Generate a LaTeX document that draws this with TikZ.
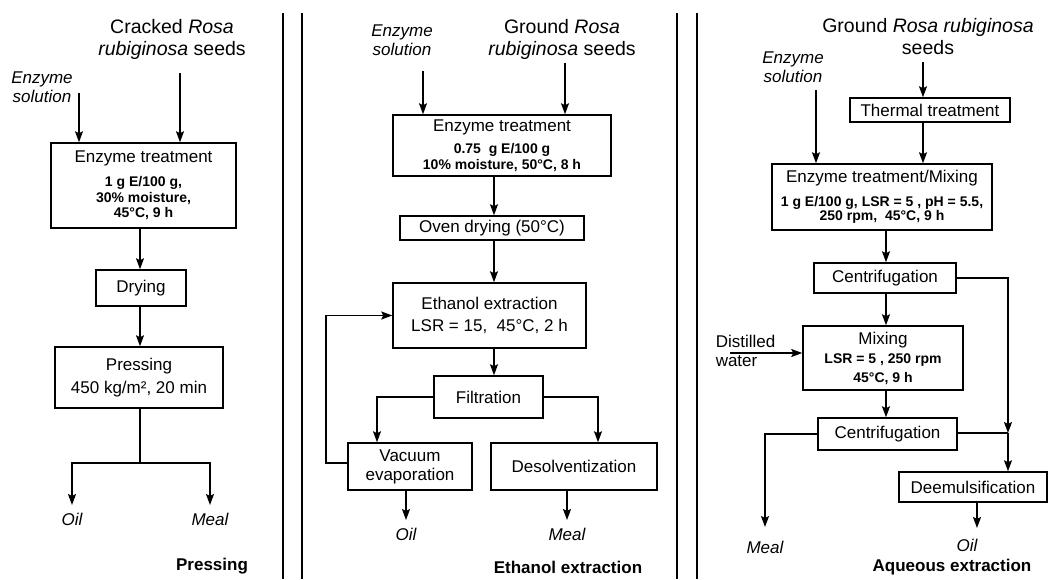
\documentclass[tikz,border=0pt]{standalone}
\usepackage{fontspec}
\setmainfont{Liberation Sans}
\usetikzlibrary{arrows.meta,calc}
\newcommand\ftitle{\fontsize{19.5}{22}\selectfont}
\newcommand\fmain{\fontsize{17}{20}\selectfont}
\newcommand\fhead{\fontsize{17}{20}\selectfont\mdseries}
\newcommand\fparam{\fontsize{14}{15.5}\selectfont\bfseries}
\newcommand\fital{\fontsize{17}{19.5}\selectfont\itshape}
\newcommand\ftag{\fontsize{17}{19}\selectfont\bfseries}
\begin{document}
\begin{tikzpicture}[x=1pt,y=-1pt,line width=1.5pt,
  >={Stealth[length=11pt,width=8pt,inset=2pt]},
  box/.style={draw,line width=1.5pt,align=center,inner sep=0pt,font=\fmain},
  pbox/.style={box,font=\fparam},
  ttl/.style={align=center,font=\ftitle,inner sep=0pt},
  ital/.style={align=center,font=\fital,inner sep=0pt},
  prod/.style={font=\fital,inner xsep=0pt,inner ysep=7pt},
  tag/.style={font=\ftag,inner sep=0pt},
  div/.style={line width=1.6pt}]
\useasboundingbox (0,0) rectangle (1050,579);
\fill[white] (0,0) rectangle (1050,579);

% dividers
\draw[div] (283,13) -- (283,579);
\draw[div] (302,13) -- (302,579);
\draw[div] (677,13) -- (677,579);
\draw[div] (697,13) -- (697,579);

% ---------------- Panel 1: Pressing
\node[ttl] (t1) at (172,39) {Cracked \textit{Rosa}\\\textit{rubiginosa} seeds};
\node[ital] (es1) at (42,87) {Enzyme\\solution};
\coordinate (es1a) at (79,93);
\coordinate (t1a) at (180,73);
\node[pbox,minimum width=185pt,minimum height=85pt] (b11) at (143.5,185.5)
  {{\fhead Enzyme treatment}\\[8.5pt]1 g E/100 g,\\30\% moisture,\\45°C, 9 h};
\draw[->] (es1a) -- (es1a |- b11.north);
\draw[->] (t1a) -- (t1a |- b11.north);
\node[box,minimum width=90pt,minimum height=36pt] (dr1) at (141,288) {Drying};
\node[box,minimum width=168pt,minimum height=61pt] (pr1) at (139,377.5)
  {Pressing\\[3pt]450 kg/m², 20 min};
\coordinate (j1) at (140,463);
\draw[->] (j1 |- b11.south) -- (j1 |- dr1.north);
\draw[->] (j1 |- dr1.south) -- (j1 |- pr1.north);
\node[prod] (o1) at (72,519) {Oil};
\node[prod] (m1) at (210,519) {Meal};
\draw (j1 |- pr1.south) -- (j1);
\draw[->] (j1) -| (o1.north);
\draw[->] (j1) -| (m1.north);
\node[tag] (lb1) at (212,566) {Pressing};

% ---------------- Panel 2: Ethanol extraction
\node[ttl] (t2) at (562,39) {Ground \textit{Rosa}\\\textit{rubiginosa} seeds};
\node[ital] (es2) at (402,40) {Enzyme\\solution};
\coordinate (es2a) at (423,71);
\coordinate (t2a) at (565,63);
\node[pbox,minimum width=218pt,minimum height=61pt] (b21) at (502,145.5)
  {{\fhead Enzyme treatment}\\[6.5pt]0.75~~g E/100 g\\10\% moisture, 50°C, 8 h};
\draw[->] (es2a) -- (es2a |- b21.north);
\draw[->] (t2a) -- (t2a |- b21.north);
\coordinate (c2) at (494,0);
\node[box,minimum width=184pt,minimum height=24pt] (od2) at (492,228) {Oven drying (50°C)};
\node[box,minimum width=193pt,minimum height=65pt] (ee2) at (489.5,315.5)
  {Ethanol extraction\\[2pt]LSR = 15, \ 45°C, 2 h};
\node[box,minimum width=109pt,minimum height=42pt] (fi2) at (488.5,397) {Filtration};
\draw[->] (b21.south -| c2) -- (od2.north -| c2);
\draw[->] (od2.south -| c2) -- (ee2.north -| c2);
\draw[->] (ee2.south -| c2) -- (fi2.north -| c2);
\node[box,minimum width=124pt,minimum height=47pt] (ve2) at (410,466.5)
  {Vacuum\\[-1pt]evaporation};
\node[box,minimum width=166pt,minimum height=47pt] (de2) at (574,466.5) {Desolventization};
\draw[->] (fi2.west) -| ([xshift=-33pt]ve2.north);
\draw[->] (fi2.east) -| ([xshift=24pt]de2.north);
\coordinate (lp) at (326,463);
\draw[->] (ve2.west |- lp) -- (lp) |- (ee2.west);
\node[prod] (o2) at (406,534) {Oil};
\node[prod] (m2) at (567,534) {Meal};
\draw[->] (ve2.south -| o2.north) -- (o2.north);
\draw[->] (de2.south -| m2.north) -- (m2.north);
\node[tag] (lb2) at (568,567) {Ethanol extraction};

% ---------------- Panel 3: Aqueous extraction
\node[ttl] (t3) at (928,37) {Ground \textit{Rosa rubiginosa}\\seeds};
\node[ital] (es3) at (793,67) {Enzyme\\solution};
\coordinate (t3a) at (923,62);
\coordinate (es3a) at (816,90);
\node[box,minimum width=160pt,minimum height=24pt] (th3) at (930,110) {Thermal treatment};
\node[pbox,minimum width=220pt,minimum height=66pt] (b31) at (882,197)
  {{\fhead Enzyme treatment/Mixing}\\[8.5pt]1 g E/100 g, LSR = 5 , pH = 5.5,\\[-1.5pt]250 rpm, \ 45°C, 9 h};
\draw[->] (t3a) -- (t3a |- th3.north);
\draw[->] (th3.south -| t3a) -- (b31.north -| t3a);
\draw[->] (es3a) -- (es3a |- b31.north);
\coordinate (v3) at (886,0);
\node[box,minimum width=142pt,minimum height=30pt] (c31) at (885,278) {Centrifugation};
\node[pbox,minimum width=160pt,minimum height=64pt] (mx3) at (883,358)
  {{\fhead Mixing}\\[3.5pt]LSR = 5 , 250 rpm\\[3.5pt]45°C, 9 h};
\node[box,minimum width=139pt,minimum height=32pt] (c32) at (887.5,434) {Centrifugation};
\draw[->] (b31.south -| v3) -- (c31.north -| v3);
\draw[->] (c31.south -| v3) -- (mx3.north -| v3);
\draw[->] (mx3.south -| v3) -- (c32.north -| v3);
\node[font=\fmain,align=left,inner sep=0pt,anchor=west] (dw3) at (715,351) {Distilled\\[-1pt]water};
\coordinate (dwa) at (730,353);
\draw[->] (dwa) -- (dwa -| mx3.west);
\node[box,minimum width=148pt,minimum height=30pt] (de3) at (973,487) {Deemulsification};
\coordinate (j3) at (1008,433);
\draw[->] (c31.east) -| (j3);
\draw (c32.east |- j3) -- (j3);
\draw[->] (j3) -- (j3 |- de3.north);
\node[prod] (m3) at (765,547) {Meal};
\draw[->] (c32.west) -| ([yshift=6pt]m3.north);
\node[prod] (o3) at (967,545) {Oil};
\coordinate (d3) at (977,0);
\draw[->] (de3.south -| d3) -- ([yshift=3pt]o3.north -| d3);
\node[tag] (lb3) at (952,567) {Aqueous extraction};
\end{tikzpicture}
\end{document}
